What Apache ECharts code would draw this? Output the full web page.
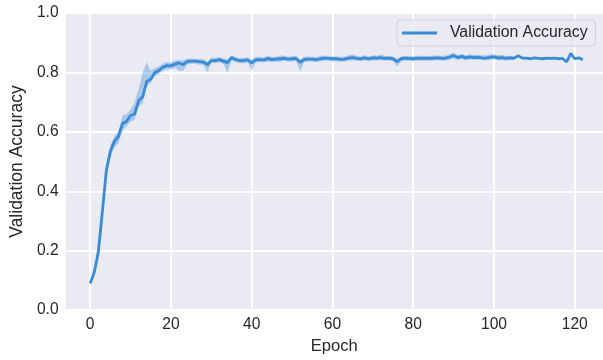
<!DOCTYPE html>
<html>
<head>
<meta charset="utf-8">
<script src="https://cdn.jsdelivr.net/npm/echarts@6/dist/echarts.min.js"></script>
<style>html,body{margin:0;padding:0;background:#fff}#c{width:603px;height:360px}</style>
</head>
<body>
<div id="c"></div>
<script>
// Epoch indices
const epochs = [];
for (let i = 0; i <= 122; i++) epochs.push(i);

// Mean validation accuracy per epoch (0..122)
const meanAcc = [
0.090,0.127,0.195,0.330,0.470,0.535,0.568,0.585,0.628,0.635,
0.655,0.660,0.705,0.718,0.770,0.778,0.800,0.806,0.818,0.823,
0.822,0.828,0.832,0.826,0.836,0.838,0.838,0.836,0.835,0.826,
0.840,0.840,0.843,0.838,0.833,0.850,0.843,0.840,0.840,0.842,
0.832,0.842,0.843,0.842,0.847,0.843,0.845,0.846,0.847,0.845,
0.846,0.847,0.834,0.844,0.845,0.845,0.843,0.846,0.848,0.847,
0.846,0.846,0.844,0.845,0.848,0.850,0.847,0.846,0.849,0.846,
0.849,0.848,0.850,0.847,0.848,0.846,0.836,0.846,0.848,0.847,
0.846,0.848,0.847,0.848,0.847,0.848,0.849,0.847,0.848,0.852,
0.857,0.850,0.854,0.849,0.852,0.850,0.851,0.849,0.848,0.851,
0.852,0.849,0.850,0.847,0.849,0.848,0.856,0.848,0.848,0.846,
0.849,0.847,0.846,0.848,0.847,0.848,0.846,0.847,0.835,0.864,
0.846,0.849,0.843
];

// Confidence band (epochs 0..105)
const bandLow = [
0.084,0.118,0.182,0.310,0.448,0.515,0.548,0.562,0.605,0.618,
0.635,0.640,0.685,0.695,0.755,0.765,0.787,0.795,0.806,0.810,
0.810,0.815,0.805,0.806,0.826,0.829,0.829,0.826,0.826,0.800,
0.832,0.831,0.834,0.828,0.798,0.840,0.835,0.831,0.830,0.833,
0.806,0.833,0.835,0.833,0.837,0.835,0.836,0.836,0.839,0.836,
0.837,0.838,0.803,0.835,0.836,0.837,0.834,0.838,0.840,0.839,
0.838,0.838,0.836,0.837,0.839,0.841,0.839,0.838,0.840,0.838,
0.840,0.840,0.841,0.839,0.840,0.838,0.820,0.838,0.840,0.839,
0.838,0.840,0.839,0.840,0.839,0.840,0.841,0.839,0.840,0.843,
0.847,0.842,0.845,0.841,0.843,0.842,0.843,0.841,0.840,0.843,
0.844,0.841,0.842,0.840,0.842,0.842
];
const bandHigh = [
0.096,0.140,0.212,0.350,0.492,0.555,0.585,0.600,0.655,0.660,
0.675,0.700,0.745,0.800,0.835,0.805,0.815,0.820,0.830,0.835,
0.834,0.840,0.842,0.840,0.846,0.847,0.846,0.845,0.845,0.836,
0.849,0.849,0.851,0.848,0.844,0.858,0.852,0.848,0.849,0.851,
0.842,0.853,0.852,0.850,0.856,0.852,0.853,0.856,0.857,0.853,
0.855,0.856,0.843,0.853,0.854,0.853,0.852,0.855,0.857,0.855,
0.854,0.854,0.853,0.854,0.858,0.860,0.855,0.854,0.859,0.854,
0.858,0.856,0.860,0.855,0.856,0.854,0.846,0.854,0.856,0.855,
0.854,0.857,0.855,0.856,0.855,0.856,0.858,0.855,0.857,0.861,
0.867,0.859,0.863,0.858,0.861,0.859,0.860,0.858,0.857,0.860,
0.861,0.858,0.859,0.855,0.856,0.854
];

const xTicks = [0, 20, 40, 60, 80, 100, 120];
const yTicks = [0.0, 0.2, 0.4, 0.6, 0.8, 1.0];

const lineColor = '#3a8bd6';
const font = '"Liberation Sans", Arial, sans-serif';
const textColor = '#262626';

const chart = echarts.init(document.getElementById('c'), null, {renderer: 'canvas'});

const meanData = epochs.map((e, i) => [e, meanAcc[i]]);

function renderBand(params, api) {
  if (params.dataIndex !== 0) return null;
  const pts = [];
  for (let i = 0; i < bandHigh.length; i++) pts.push(api.coord([epochs[i], bandHigh[i]]));
  for (let i = bandLow.length - 1; i >= 0; i--) pts.push(api.coord([epochs[i], bandLow[i]]));
  return {type: 'polygon', shape: {points: pts}, style: {fill: 'rgba(58,139,214,0.36)', stroke: null}, silent: true};
}

chart.setOption({
  backgroundColor: '#ffffff',
  animation: false,
  grid: {left: 57.5, right: 0, top: 13, bottom: 45, show: true, backgroundColor: '#eaeaf2', borderWidth: 0},
  xAxis: {
    type: 'value', min: -6.1, max: 127,
    name: 'Epoch', nameLocation: 'middle', nameGap: 22,
    nameTextStyle: {fontFamily: font, fontSize: 16.6, color: textColor},
    axisLine: {show: false},
    axisTick: {show: false, customValues: xTicks},
    axisLabel: {customValues: xTicks, margin: 7, fontFamily: font, fontSize: 15.6, color: textColor},
    splitLine: {show: true, lineStyle: {color: '#ffffff', width: 1.8}}
  },
  yAxis: {
    type: 'value', min: 0, max: 1, interval: 0.2,
    name: 'Validation Accuracy', nameLocation: 'middle', nameGap: 32, nameRotate: 90,
    nameTextStyle: {fontFamily: font, fontSize: 17.5, color: textColor},
    axisLine: {show: false},
    axisTick: {show: false},
    axisLabel: {margin: 7, fontFamily: font, fontSize: 15.6, color: textColor,
      formatter: v => v.toFixed(1)},
    splitLine: {show: true, lineStyle: {color: '#ffffff', width: 1.8}}
  },
  legend: {
    data: ['Validation Accuracy'],
    left: 397, top: 20,
    padding: [5, 8, 5, 5],
    backgroundColor: 'rgba(234,234,242,0.8)',
    borderColor: '#cfcfd6', borderWidth: 1, borderRadius: 4,
    icon: 'rect', itemWidth: 35, itemHeight: 3,
    textStyle: {fontFamily: font, fontSize: 15.8, color: textColor, padding: [0, 0, 0, 8]}
  },
  series: [
    {
      name: 'band', type: 'custom', renderItem: renderBand,
      data: [[epochs[0], bandLow[0]]], silent: true, z: 1, clip: true
    },
    {
      name: 'Validation Accuracy', type: 'line', data: meanData,
      symbol: 'none', showSymbol: false, z: 3,
      itemStyle: {color: lineColor},
      lineStyle: {color: lineColor, width: 2.8}
    }
  ]
});
</script>
</body>
</html>
